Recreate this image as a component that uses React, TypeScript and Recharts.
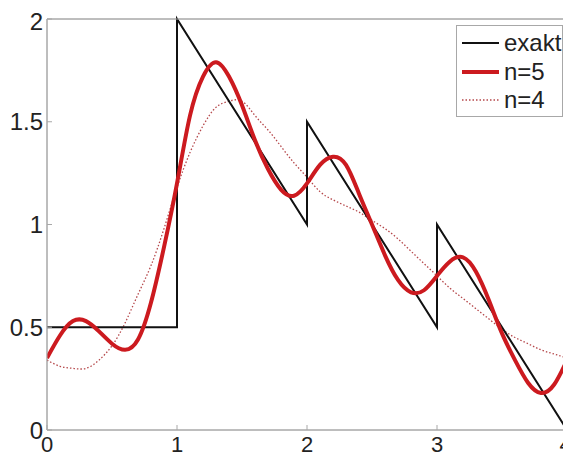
import { LineChart, Line, XAxis, YAxis, ReferenceArea } from 'recharts';

// sample positions for the two approximations
const xs = [
  0, 0.1, 0.2, 0.3, 0.4, 0.5, 0.6, 0.7, 0.8, 0.9,
  1, 1.1, 1.2, 1.3, 1.4, 1.5, 1.6, 1.7, 1.8, 1.9,
  2, 2.1, 2.2, 2.3, 2.4, 2.5, 2.6, 2.7, 2.8, 2.9,
  3, 3.1, 3.2, 3.3, 3.4, 3.5, 3.6, 3.7, 3.8, 3.9, 4,
];

const n5 = [
  0.35, 0.46, 0.53, 0.53, 0.48, 0.42, 0.39, 0.44, 0.62, 0.89,
  1.2, 1.53, 1.72, 1.79, 1.72, 1.58, 1.41, 1.27, 1.17, 1.14,
  1.2, 1.29, 1.33, 1.29, 1.15, 1.0, 0.85, 0.73, 0.67, 0.68,
  0.75, 0.82, 0.84, 0.77, 0.63, 0.47, 0.34, 0.23, 0.18, 0.22, 0.34,
];

const n4 = [
  0.34, 0.31, 0.3, 0.3, 0.34, 0.41, 0.52, 0.66, 0.8, 0.98,
  1.18, 1.35, 1.48, 1.57, 1.6, 1.6, 1.53, 1.46, 1.38, 1.3,
  1.23, 1.16, 1.12, 1.09, 1.06, 1.02, 0.98, 0.93, 0.87, 0.81,
  0.75, 0.69, 0.64, 0.59, 0.54, 0.49, 0.45, 0.42, 0.39, 0.37, 0.35,
];

// exact piecewise function (corner points, jumps repeated)
const exactX = [0, 1, 1, 2, 2, 3, 3, 4];
const exactY = [0.5, 0.5, 2, 1, 1.5, 0.5, 1, 0];

const xTicks = [0, 1, 2, 3, 4];
const yTicks = [0, 0.5, 1, 1.5, 2];
const yTickLabels = ['0', '0.5', '1', '1.5', '2'];

const legendItems = [
  { name: 'exakt', color: '#111111', width: 2, dash: undefined },
  { name: 'n=5', color: '#cc1a1f', width: 4, dash: undefined },
  { name: 'n=4', color: '#b5474a', width: 1.3, dash: '1.5 2' },
];

const AXIS = '#a8a8a8';
const FONT = '"Liberation Sans", Arial, sans-serif';

const exactData = exactX.map((x, i) => ({ x, y: exactY[i] }));
const n5Data = xs.map((x, i) => ({ x, y: n5[i] }));
const n4Data = xs.map((x, i) => ({ x, y: n4[i] }));

function LegendBox() {
  return (
    <div
      style={{
        position: 'absolute',
        left: 448,
        top: 17,
        width: 105,
        height: 90,
        border: `1px solid ${AXIS}`,
        background: '#fff',
        fontFamily: FONT,
        fontSize: 24,
        color: '#222',
      }}
    >
      {legendItems.map((item, i) => (
        <div
          key={item.name}
          style={{ position: 'absolute', left: 5, top: 3 + i * 28.5, height: 28, display: 'flex', alignItems: 'center' }}
        >
          <svg width={37} height={10} style={{ marginRight: 5 }}>
            <line
              x1={0}
              y1={5}
              x2={37}
              y2={5}
              stroke={item.color}
              strokeWidth={item.width}
              strokeDasharray={item.dash}
            />
          </svg>
          <span>{item.name}</span>
        </div>
      ))}
    </div>
  );
}

export default function App() {
  return (
    <div style={{ position: 'relative', width: 563, height: 449 }}>
      <LineChart
        width={563}
        height={449}
        margin={{ top: 10, right: 3, bottom: 0, left: 0 }}
        style={{ fontFamily: FONT }}
      >
        <XAxis
          xAxisId="b"
          dataKey="x"
          type="number"
          domain={[0, 4]}
          ticks={xTicks}
          allowDataOverflow
          height={27}
          stroke={AXIS}
          tickSize={-5}
          tickMargin={11}
          tick={{ fill: '#222', fontSize: 22 }}
        />
        <XAxis
          xAxisId="t"
          dataKey="x"
          type="number"
          orientation="top"
          domain={[0, 4]}
          ticks={xTicks}
          height={1}
          stroke={AXIS}
          tickSize={-5}
          tick={false}
        />
        <YAxis
          yAxisId="l"
          type="number"
          domain={[0, 2]}
          ticks={yTicks}
          tickFormatter={(v: number) => yTickLabels[yTicks.indexOf(v)] ?? String(v)}
          width={39}
          stroke={AXIS}
          tickSize={-5}
          tickMargin={9}
          tick={{ fill: '#222', fontSize: 24 }}
        />
        <YAxis
          yAxisId="r"
          type="number"
          orientation="right"
          domain={[0, 2]}
          ticks={yTicks}
          width={1}
          stroke={AXIS}
          tickSize={-5}
          tick={false}
        />
        <ReferenceArea
          xAxisId="b"
          yAxisId="l"
          x1={0}
          x2={4}
          y1={0}
          y2={2}
          fill="none"
          fillOpacity={0}
          stroke={AXIS}
          strokeWidth={1}
          ifOverflow="visible"
        />
        <Line
          xAxisId="b"
          yAxisId="l"
          data={n4Data}
          dataKey="y"
          name="n=4"
          type="natural"
          stroke="#b5474a"
          strokeWidth={1.3}
          strokeDasharray="1.5 2"
          dot={false}
          isAnimationActive={false}
        />
        <Line
          xAxisId="b"
          yAxisId="l"
          data={exactData}
          dataKey="y"
          name="exakt"
          type="linear"
          stroke="#111111"
          strokeWidth={2}
          dot={false}
          isAnimationActive={false}
        />
        <Line
          xAxisId="b"
          yAxisId="l"
          data={n5Data}
          dataKey="y"
          name="n=5"
          type="natural"
          stroke="#cc1a1f"
          strokeWidth={4}
          dot={false}
          isAnimationActive={false}
        />
      </LineChart>
      <LegendBox />
    </div>
  );
}
